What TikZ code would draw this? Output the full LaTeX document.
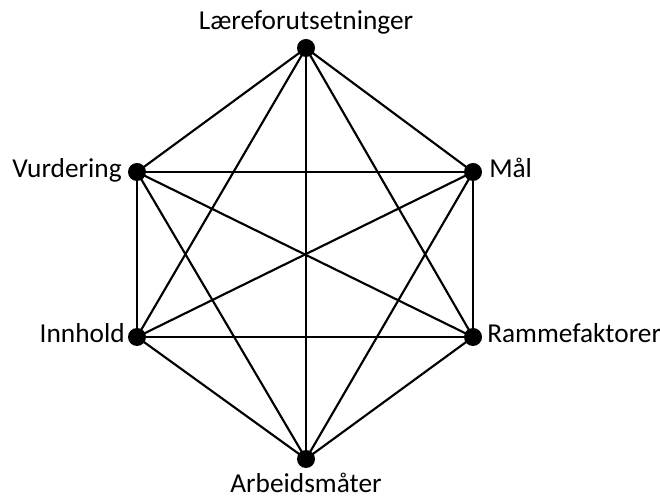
\documentclass[tikz,border=0pt]{standalone}
\usepackage{fontspec}
\setmainfont{Carlito}
\usetikzlibrary{positioning}

\tikzset{
  vertex/.style={circle, fill=black, inner sep=0pt, minimum size=13.5pt},
  lbl/.style={font=\fontsize{20.5}{24}\selectfont, inner sep=0pt},
  edge/.style={line width=1.6pt}
}

\begin{document}
\begin{tikzpicture}[x=0.75pt, y=-0.75pt]
    \useasboundingbox (0,0) rectangle (660,498);

    % Vertices
    \node[vertex] (laere) at (306,48) {};
    \node[vertex] (maal) at (473,172) {};
    \node[vertex] (ramme) at (473,337) {};
    \node[vertex] (arbeid) at (306,459) {};
    \node[vertex] (innhold) at (137,337) {};
    \node[vertex] (vurd) at (137,172) {};

    % Labels
    \node[lbl, anchor=base] (tlaere) at (306,30) {Læreforutsetninger};
    \node[lbl, anchor=base west] (tmaal) at (489,178) {Mål};
    \node[lbl, anchor=base west] (tramme) at (487,343) {Rammefaktorer};
    \node[lbl, anchor=base] (tarbeid) at (306,493) {Arbeidsmåter};
    \node[lbl, anchor=base east] (tinnhold) at (125,343) {Innhold};
    \node[lbl, anchor=base east] (tvurd) at (122,178) {Vurdering};

    % Connectors, every pair
    \foreach \a/\b in {laere/maal, laere/ramme, laere/arbeid, laere/innhold, laere/vurd,
                       maal/ramme, maal/arbeid, maal/innhold, maal/vurd,
                       ramme/arbeid, ramme/innhold, ramme/vurd,
                       arbeid/innhold, arbeid/vurd,
                       innhold/vurd}
        \draw[edge] (\a.center) -- (\b.center);
\end{tikzpicture}
\end{document}
